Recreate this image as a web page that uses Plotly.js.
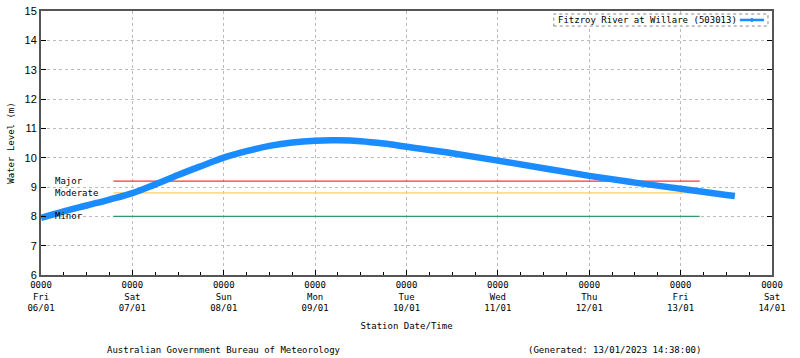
<!DOCTYPE html>
<html>
<head>
<meta charset="utf-8">
<script src="https://cdn.plot.ly/plotly-3.0.1.min.js"></script>
<style>
html,body{margin:0;padding:0;background:#fff;}
#chart{width:800px;height:358px;}
</style>
</head>
<body>
<div id="chart"></div>
<script>
// Observed water level (m), station time
const times = [
  '2023-01-06 00:00','2023-01-06 06:00','2023-01-06 12:00','2023-01-06 18:00',
  '2023-01-07 00:00','2023-01-07 06:00','2023-01-07 12:00','2023-01-07 18:00',
  '2023-01-08 00:00','2023-01-08 06:00','2023-01-08 12:00','2023-01-08 18:00',
  '2023-01-09 00:00','2023-01-09 06:00','2023-01-09 12:00','2023-01-09 18:00',
  '2023-01-10 00:00','2023-01-10 12:00','2023-01-11 00:00','2023-01-11 12:00',
  '2023-01-12 00:00','2023-01-12 12:00','2023-01-13 00:00','2023-01-13 12:00',
  '2023-01-13 14:15'
];
const levels = [
  7.95, 8.17, 8.37, 8.57,
  8.79, 9.09, 9.41, 9.71,
  10.00, 10.22, 10.40, 10.52,
  10.58, 10.59, 10.56, 10.48,
  10.37, 10.15, 9.90, 9.64,
  9.38, 9.15, 8.94, 8.73,
  8.69
];
const seriesName = 'Fitzroy River at Willare (503013)';

// Flood classification levels
const floodNames = ['Major', 'Moderate', 'Minor'];
const floodLevels = [9.2, 8.8, 8.0];
const floodColors = ['#ff3333', '#ffcc66', '#339966'];
const floodStart = '2023-01-06 19:00';
const floodEnd = '2023-01-13 05:00';

// X tick labels
const tickDates = ['2023-01-06','2023-01-07','2023-01-08','2023-01-09','2023-01-10','2023-01-11','2023-01-12','2023-01-13','2023-01-14'];
const tickDays = ['Fri','Sat','Sun','Mon','Tue','Wed','Thu','Fri','Sat'];
const tickDM = ['06/01','07/01','08/01','09/01','10/01','11/01','12/01','13/01','14/01'];
const tickText = tickDates.map((d,i)=>'0000<br>'+tickDays[i]+'<br>'+tickDM[i]);

const mono = 'DejaVu Sans Mono, monospace';
const blue = '#1a8cff';
const traces = [];
floodNames.forEach((n,i)=>{
  traces.push({
    x:[floodStart, floodEnd], y:[floodLevels[i], floodLevels[i]],
    mode:'lines', line:{color:floodColors[i], width:1.2},
    showlegend:false, hoverinfo:'skip'
  });
});
traces.push({
  x: times, y: levels, name: seriesName,
  mode:'lines', line:{color:blue, width:6.5, shape:'spline', smoothing:1.0},
  showlegend:false
});

const annotations = floodNames.map((n,i)=>({
  xref:'paper', yref:'y', x:0.017, y:floodLevels[i], xanchor:'left', yanchor:'middle',
  text:n, showarrow:false, font:{family:mono, size:9, color:'#000'}
}));
annotations.push({xref:'paper', yref:'paper', x:0.25, y:-0.285, xanchor:'center', yanchor:'middle',
  text:'Australian Government Bureau of Meteorology', showarrow:false, font:{family:mono,size:9,color:'#000'}});
annotations.push({xref:'paper', yref:'paper', x:0.785, y:-0.285, xanchor:'center', yanchor:'middle',
  text:'(Generated: 13/01/2023 14:38:00)', showarrow:false, font:{family:mono,size:9,color:'#000'}});
// legend text
annotations.push({xref:'paper', yref:'paper', x:0.704, y:0.966, xanchor:'left', yanchor:'middle',
  text:seriesName, showarrow:false, font:{family:mono,size:9,color:'#000'}});

const shapes = [
  // legend box (dotted)
  {type:'rect', xref:'paper', yref:'paper', x0:0.7015, x1:0.9945, y0:0.943, y1:0.9886,
   line:{color:'#888', width:1, dash:'dot'}, fillcolor:'#fff', layer:'above'},
  // legend sample line
  {type:'line', xref:'paper', yref:'paper', x0:0.956, x1:0.989, y0:0.966, y1:0.966,
   line:{color:blue, width:2.5}, layer:'above'},
  {type:'circle', xref:'paper', yref:'paper', x0:0.9705, x1:0.9745, y0:0.9605, y1:0.9715,
   line:{color:blue, width:1}, fillcolor:blue, layer:'above'}
];

const layout = {
  width:800, height:358,
  margin:{l:41, r:28, t:11, b:83},
  paper_bgcolor:'#fff', plot_bgcolor:'#fff',
  font:{family:mono, size:9, color:'#000'},
  showlegend:false,
  xaxis:{
    type:'date', range:['2023-01-06','2023-01-14'],
    tickmode:'array', tickvals:tickDates, ticktext:tickText,
    ticks:'inside', ticklen:5, tickcolor:'#000',
    minor:{dtick:6*3600*1000, ticks:'inside', ticklen:3, tickcolor:'#000', showgrid:false},
    showgrid:true, gridcolor:'#bbbbbb', griddash:'dot', gridwidth:1,
    showline:true, linecolor:'#555', linewidth:2, mirror:true,
    zeroline:false,
    tickfont:{family:mono, size:9},
    title:{text:'Station Date/Time', font:{family:mono,size:9}, standoff:10}
  },
  yaxis:{
    range:[6,15], dtick:1, tick0:6,
    ticks:'inside', ticklen:5, tickcolor:'#000',
    showgrid:true, gridcolor:'#bbbbbb', griddash:'dot', gridwidth:1,
    showline:true, linecolor:'#555', linewidth:2, mirror:'ticks',
    zeroline:false,
    tickfont:{family:'Liberation Sans, Arial, sans-serif', size:11},
    title:{text:'Water Level (m)', font:{family:mono,size:9}, standoff:8}
  },
  annotations: annotations,
  shapes: shapes
};

Plotly.newPlot('chart', traces, layout, {staticPlot:true, displayModeBar:false});
</script>
</body>
</html>
